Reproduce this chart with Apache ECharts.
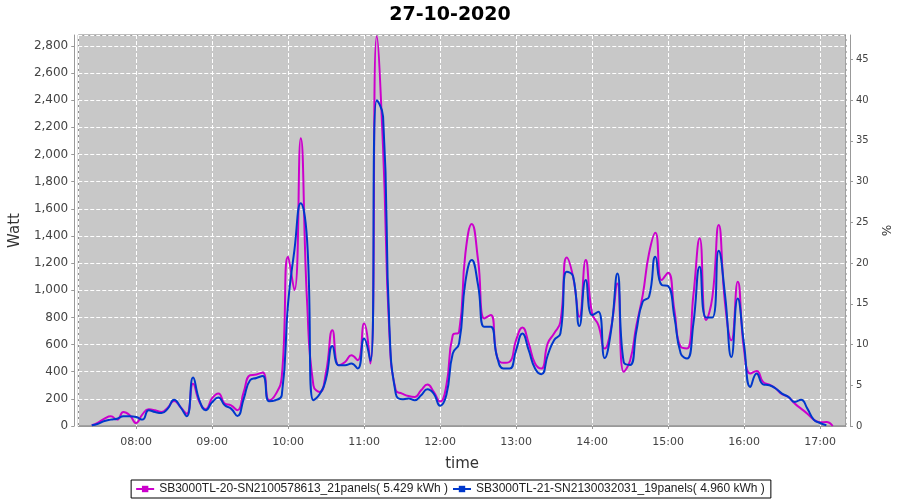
<!DOCTYPE html>
<html>
<head>
<meta charset="utf-8">
<script src="https://cdn.jsdelivr.net/npm/echarts@6/dist/echarts.min.js"></script>
<style>
  html, body { margin: 0; padding: 0; background: #fff; }
  #chart { width: 900px; height: 500px; }
</style>
</head>
<body>
<div id="chart"></div>
<script>
// 时间点（每5分钟一个采样）
const times = [
  '07:25','07:30','07:35','07:40','07:45','07:50','07:55',
  '08:00','08:05','08:10','08:15','08:20','08:25','08:30','08:35','08:40','08:45','08:50','08:55',
  '09:00','09:05','09:10','09:15','09:20','09:25','09:30','09:35','09:40','09:45','09:50','09:55',
  '10:00','10:05','10:10','10:15','10:20','10:25','10:30','10:35','10:40','10:45','10:50','10:55',
  '11:00','11:05','11:10','11:15','11:20','11:25','11:30','11:35','11:40','11:45','11:50','11:55',
  '12:00','12:05','12:10','12:15','12:20','12:25','12:30','12:35','12:40','12:45','12:50','12:55',
  '13:00','13:05','13:10','13:15','13:20','13:25','13:30','13:35','13:40','13:45','13:50','13:55',
  '14:00','14:05','14:10','14:15','14:20','14:25','14:30','14:35','14:40','14:45','14:50','14:55',
  '15:00','15:05','15:10','15:15','15:20','15:25','15:30','15:35','15:40','15:45','15:50','15:55',
  '16:00','16:05','16:10','16:15','16:20','16:25','16:30','16:35','16:40','16:45','16:50','16:55',
  '17:00','17:05','17:10'
]

// SB3000TL-20 (21 panels)
const inv20 = [
  5, 25, 54, 71, 47, 103, 79,
  22, 86, 123, 116, 103, 135, 185, 140, 91, 312, 177, 123,
  205, 240, 165, 152, 116, 251, 374, 379, 394, 190, 231, 362,
  1247, 1001, 2120, 915, 300, 250, 398, 706, 448, 472, 521, 485,
  755, 460, 2870, 2047, 681, 263, 239, 221, 214, 263, 305, 251,
  180, 300, 669, 694, 1272, 1488, 1223, 792, 817, 509, 465, 473,
  632, 726, 608, 460, 423, 608, 681, 767, 1242, 1100, 804, 1223,
  829, 743, 570, 720, 1050, 400, 480, 740, 964, 1272, 1424, 1075,
  1129, 853, 583, 571, 964, 1382, 780, 950, 1480, 903, 632, 1063,
  560, 386, 406, 325, 305, 276, 234, 214, 165, 128, 91, 47,
  27, 30, 0
]

// SB3000TL-21 (19 panels)
const inv21 = [
  5, 17, 37, 47, 54, 71, 71,
  66, 47, 116, 103, 96, 128, 194, 140, 71, 357, 189, 116,
  175, 210, 152, 128, 74, 202, 337, 354, 369, 182, 190, 226,
  903, 1296, 1641, 1370, 190, 235, 349, 590, 448, 448, 460, 423,
  645, 480, 2400, 2280, 730, 239, 197, 202, 190, 226, 270, 239,
  150, 230, 534, 608, 1063, 1223, 1038, 731, 731, 509, 423, 423,
  558, 681, 558, 423, 381, 521, 632, 681, 1136, 1104, 736, 1075,
  817, 841, 500, 700, 1124, 470, 450, 700, 915, 952, 1247, 1038,
  1031, 804, 534, 497, 755, 1173, 800, 800, 1290, 964, 509, 940,
  600, 288, 386, 307, 300, 276, 239, 214, 177, 194, 128, 47,
  22, 5, null
]

const names = [
  'SB3000TL-20-SN2100578613_21panels( 5.429 kWh )',
  'SB3000TL-21-SN2130032031_19panels( 4.960 kWh )'
]

function toDate(hm) {
  const p = hm.split(':')
  return new Date(2020, 9, 27, +p[0], +p[1]).getTime()
}

function pairs(vals) {
  const out = []
  vals.forEach((v, i) => {
    if (v !== null) out.push([toDate(times[i]), v])
  })
  return out
}

const chart = echarts.init(document.getElementById('chart'))
const axisText = { color: '#444', fontFamily: 'DejaVu Sans', fontSize: 11 }

chart.setOption({
  animation: false,
  backgroundColor: '#fff',
  title: {
    text: '27-10-2020',
    left: 'center',
    top: 1,
    textStyle: { fontFamily: 'DejaVu Sans', fontWeight: 'bold', fontSize: 19, color: '#000' }
  },
  legend: {
    bottom: 2,
    left: 'center',
    data: names,
    borderColor: '#000',
    borderWidth: 1,
    borderRadius: 0,
    padding: [3, 6, 3, 4],
    itemGap: 4,
    itemWidth: 18,
    itemHeight: 8,
    textStyle: { fontFamily: 'Liberation Sans', fontSize: 12, color: '#222' }
  },
  grid: {
    left: 76, right: 54, top: 35, bottom: 74,
    show: true,
    backgroundColor: '#c8c8c8',
    borderColor: '#7a7a7a',
    borderWidth: 1
  },
  xAxis: {
    type: 'time',
    min: new Date(2020, 9, 27, 7, 14, 20).getTime(),
    max: new Date(2020, 9, 27, 17, 20, 30).getTime(),
    minInterval: 3600000,
    maxInterval: 3600000,
    offset: 4,
    name: 'time',
    nameLocation: 'middle',
    nameGap: 27,
    nameTextStyle: { color: '#333', fontFamily: 'DejaVu Sans', fontSize: 15 },
    axisLine: { show: true, lineStyle: { color: '#999' } },
    axisTick: { show: true, length: 3, lineStyle: { color: '#999' } },
    axisLabel: Object.assign({ formatter: '{HH}:{mm}', margin: 7, showMinLabel: false, showMaxLabel: false }, axisText),
    splitLine: { show: true, lineStyle: { color: '#fff', type: 'dashed', width: 1 } }
  },
  yAxis: [
    {
      type: 'value',
      min: 0,
      max: 2880,
      interval: 200,
      offset: 4,
      name: 'Watt',
      nameLocation: 'middle',
      nameGap: 44,
      nameTextStyle: { color: '#333', fontFamily: 'DejaVu Sans', fontSize: 15 },
      axisLine: { show: true, lineStyle: { color: '#999' } },
      axisTick: { show: true, length: 3, lineStyle: { color: '#999' } },
      axisLabel: Object.assign({
        showMaxLabel: false,
        margin: 6,
        formatter: v => v.toLocaleString('en-US')
      }, axisText, { fontSize: 12 }),
      splitLine: { show: true, lineStyle: { color: '#fff', type: 'dashed', width: 1 } }
    },
    {
      type: 'value',
      min: 0,
      max: 48,
      interval: 5,
      offset: 4,
      position: 'right',
      name: '%',
      nameLocation: 'middle',
      nameGap: 24,
      nameRotate: -90,
      nameTextStyle: { color: '#333', fontFamily: 'DejaVu Sans', fontSize: 12 },
      axisLine: { show: true, lineStyle: { color: '#999' } },
      axisTick: { show: true, length: 3, lineStyle: { color: '#999' } },
      axisLabel: Object.assign({ showMaxLabel: false, margin: 6 }, axisText, { fontSize: 10 }),
      splitLine: { show: false }
    }
  ],
  series: [
    {
      name: names[0],
      type: 'line',
      smooth: 0.5,
      showSymbol: false,
      symbol: 'rect',
      symbolSize: 4,
      color: '#cc00cc',
      lineStyle: { width: 2 },
      data: pairs(inv20)
    },
    {
      name: names[1],
      type: 'line',
      smooth: 0.5,
      showSymbol: false,
      symbol: 'rect',
      symbolSize: 4,
      color: '#0038cc',
      lineStyle: { width: 2 },
      data: pairs(inv21)
    }
  ]
})
</script>
</body>
</html>
